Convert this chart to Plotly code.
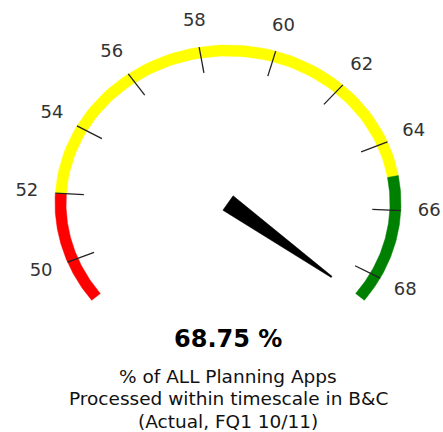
import numpy as np
import plotly.graph_objects as go

# ---- data ----
gauge_min = 48.75
gauge_max = 68.75
value = 68.75
band_edges = [48.75, 52, 65, 68.75]
band_colors = ["#ff0000", "#ffff00", "#008000"]
tick_values = [50, 52, 54, 56, 58, 60, 62, 64, 66, 68]
tick_labels = ["50", "52", "54", "56", "58", "60", "62", "64", "66", "68"]
subtitle_lines = ["% of ALL Planning Apps", "Processed within timescale in B&C", "(Actual, FQ1 10/11)"]

# ---- geometry / style ----
W, H = 443, 432
PX = 173.0                 # pixels per unit
CX_PX, CY_PX = 228, 203    # gauge centre in pixels
RX, RY = 1.0, 158 / 173.0  # outer ellipse radii (units)
THICK = 11 / 173.0
START_DEG, END_DEG = 218.0, -38.0


def ang(v):
    return np.radians(START_DEG + (v - gauge_min) / (gauge_max - gauge_min) * (END_DEG - START_DEG))


def ell(v, s, d=0.0):
    a = ang(v)
    return (s * RX - d) * np.cos(a), (s * RY - d) * np.sin(a)


fig = go.Figure()

# bands
for lo, hi, col in zip(band_edges[:-1], band_edges[1:], band_colors):
    vs = np.linspace(lo, hi, 80)
    ox, oy = ell(vs, 1.0)
    ix, iy = ell(vs[::-1], 1.0, THICK)
    fig.add_trace(go.Scatter(x=np.concatenate([ox, ix, ox[:1]]), y=np.concatenate([oy, iy, oy[:1]]),
                             mode="lines", fill="toself", fillcolor=col,
                             line=dict(color=col, width=0.5), hoverinfo="skip", showlegend=False))

# ticks
tx, ty = [], []
for v in tick_values:
    x0, y0 = ell(v, 1.0)
    x1, y1 = ell(v, 0.835)
    tx += [x0, x1, None]
    ty += [y0, y1, None]
fig.add_trace(go.Scatter(x=tx, y=ty, mode="lines", line=dict(color="#222222", width=1.3),
                         hoverinfo="skip", showlegend=False))

# tick labels
lx, ly = ell(np.array(tick_values, dtype=float), 1.165)
fig.add_trace(go.Scatter(x=lx, y=ly, mode="text", text=tick_labels,
                         textfont=dict(family="DejaVu Sans", size=18, color="#333333"),
                         textposition="middle center", hoverinfo="skip", showlegend=False))

# needle
a = ang(value)
tipx, tipy = 0.76 * RX * np.cos(a), 0.76 * RY * np.sin(a)
L = np.hypot(tipx, tipy)
ux, uy = tipx / L, tipy / L
px_, py_ = -uy, ux
hw, tw = 0.051, 0.004
nx = [hw * px_, tipx + tw * px_, tipx - tw * px_, -hw * px_, hw * px_]
ny = [hw * py_, tipy + tw * py_, tipy - tw * py_, -hw * py_, hw * py_]
fig.add_trace(go.Scatter(x=nx, y=ny, mode="lines", fill="toself", fillcolor="black",
                         line=dict(color="black", width=0.5), hoverinfo="skip", showlegend=False))

# texts
fig.add_annotation(x=0, y=(CY_PX - 339) / PX, text=f"<b>{value:.2f} %</b>", showarrow=False,
                   font=dict(family="DejaVu Sans", size=24, color="#000000"), xanchor="center", yanchor="middle")
for i, line in enumerate(subtitle_lines):
    fig.add_annotation(x=0, y=(CY_PX - (376 + 22.5 * i)) / PX, text=line, showarrow=False,
                       font=dict(family="DejaVu Sans", size=18.5, color="#111111"),
                       xanchor="center", yanchor="middle")

fig.update_layout(
    width=W, height=H, margin=dict(l=0, r=0, t=0, b=0),
    paper_bgcolor="white", plot_bgcolor="white",
    xaxis=dict(range=[-CX_PX / PX, (W - CX_PX) / PX], visible=False, fixedrange=True),
    yaxis=dict(range=[-(H - CY_PX) / PX, CY_PX / PX], visible=False, fixedrange=True),
)

fig.write_html("out.html", config={"displayModeBar": False},
               post_script="document.body.style.margin='0';document.body.style.overflow='hidden';")
